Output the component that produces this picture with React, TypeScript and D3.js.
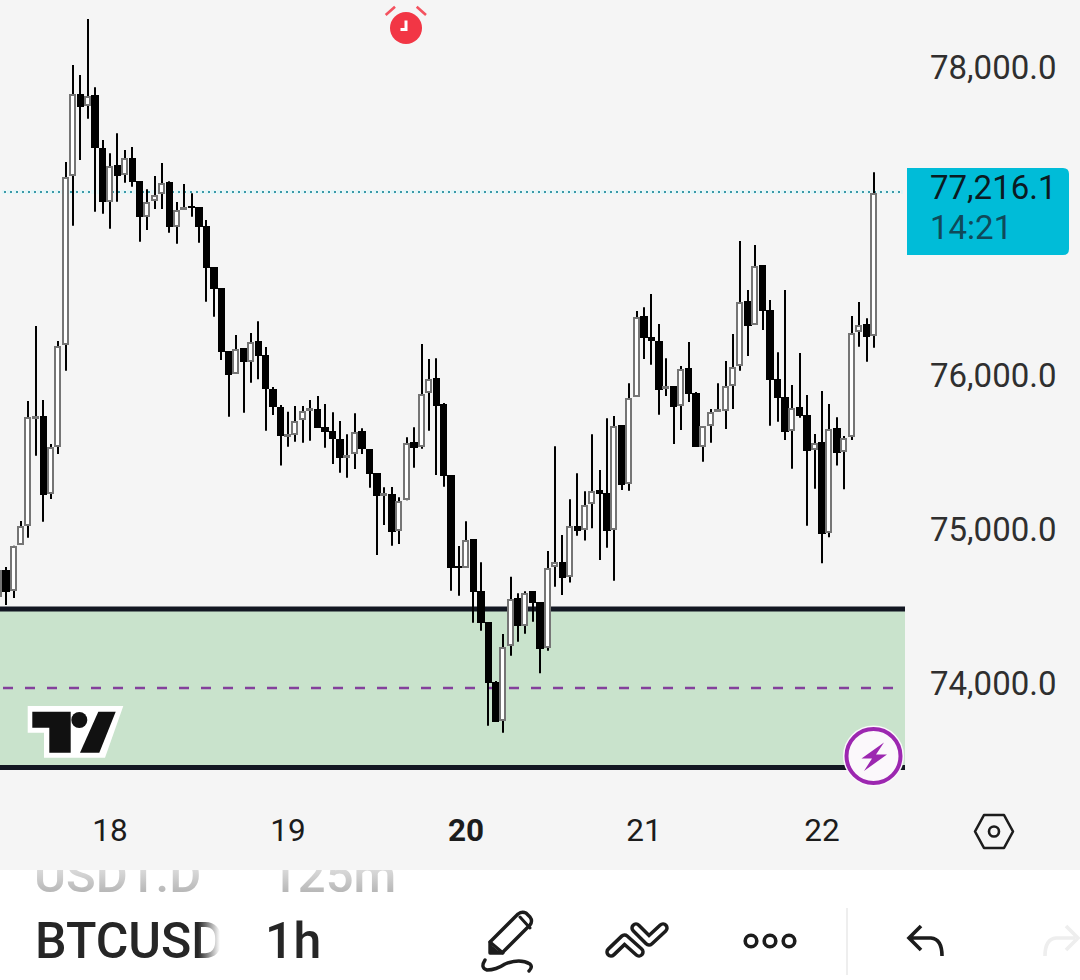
import React from "react";
import * as d3 from "d3";

const firstHourOffset = -15; // hours relative to day 18 00:00
const opens = [74591,74766,74630,74929,75054,75757,75766,75260,75567,76227,77325,77855,77779,77851,77505,77154,77396,77329,77440,77290,77060,77160,77206,77286,76995,77108,77132,77121,76998,76732,76595,76188,76039,76206,76119,76251,76160,75940,75823,75638,75643,75740,75810,75812,75693,75667,75617,75492,75519,75667,75550,75394,75260,75262,75017,75219,75595,75563,75914,76011,75842,75381,74790,74779,74966,74628,74427,74037,73786,74273,74582,74403,74628,74557,74258,74788,74816,74721,75055,75026,75195,75284,75264,75026,75706,75323,75892,76416,76277,76253,75940,75961,75831,76078,75914,75563,75701,75801,75799,75959,76091,76513,76357,76747,76453,76004,75888,75667,75825,75771,75545,75597,75006,75686,75531,75630,76312,76362,76286];
const highs = [74786,74786,74924,75084,75864,76351,75870,75584,76253,77416,78045,77981,78344,77901,77558,77472,77602,77494,77513,77290,77238,77325,77409,77290,77156,77273,77212,77121,77039,76732,76595,76188,76292,76206,76305,76381,76214,75955,75838,75794,75831,75831,75870,75896,75844,75790,75734,75647,75784,75686,75550,75394,75303,75305,75238,75628,75693,76234,76136,76141,75851,75381,74922,75082,74966,74816,74427,74045,74351,74723,74615,74628,74628,74557,74890,75569,74994,75225,75394,75277,75647,75416,75751,75766,75706,75979,76448,76472,76558,76364,76141,75961,76091,76247,75922,75701,75812,75979,76123,76299,76903,76584,76877,76747,76519,76180,76584,75968,76175,75903,75649,75929,75844,75758,75636,76416,76506,76401,77349];
const lows = [74545,74539,74584,74929,74976,75508,75080,75227,75519,76060,77002,77429,77697,77093,77080,76982,77158,77281,77255,76898,76974,77110,77110,76956,76885,77108,77060,76892,76508,76411,76130,75762,76039,75788,75982,76005,75671,75773,75444,75567,75599,75593,75606,75690,75560,75455,75398,75366,75422,75519,75301,74864,75058,74924,74935,75219,75431,75554,75671,75383,75307,74632,74599,74779,74424,74372,73755,73781,73710,74210,74301,74353,74431,74095,74242,74658,74604,74685,74989,74957,75037,74831,74911,74697,75286,75281,75890,76136,76099,75775,75896,75584,75675,75857,75567,75469,75593,75799,75682,75812,76060,76156,76357,76325,75703,75729,75610,75424,75755,75054,75294,74810,74979,75444,75290,75610,76216,76119,76210];
const closes = [74766,74623,74924,75054,75760,75766,75253,75567,76223,77320,77857,77775,77846,77505,77154,77392,77327,77444,77288,77060,77158,77203,77281,76995,77104,77125,77125,76995,76729,76593,76184,76034,76201,76119,76249,76158,75940,75823,75638,75647,75736,75801,75816,75690,75664,75617,75495,75513,75664,75550,75390,75249,75268,75015,75216,75593,75560,75909,76008,75833,75379,74781,74784,74961,74625,74424,74034,73781,74266,74580,74403,74619,74554,74255,74781,74815,74716,75052,75021,75188,75279,75262,75021,75703,75318,75885,76411,76275,76251,75937,75961,75827,76073,75911,75567,75701,75794,75810,75963,76086,76508,76353,76742,76450,76002,75885,75664,75820,75766,75541,75593,75002,75682,75528,75625,76305,76357,76281,77216.1];

const dayLabels = [18, 19, 20, 21, 22];
const boldDay = 20;
const priceTicks = [78000, 76000, 75000, 74000];
const zoneTop = 74513;
const zoneBottom = 73484;
const zoneMid = 74000;
const lastPrice = 77216.1;

const W = 1080, H = 980;
const chartBottom = 870;
const zoneEnd = 905;
const font = "Roboto, sans-serif";

const x = d3.scaleLinear().domain([18, 22]).range([110, 822]);
const y = d3.scaleLinear().domain([78000, 74000]).range([72, 688]);
const fmt = d3.format(",.1f");
const hourX = (i: number) => x(18 + (firstHourOffset + i) / 24);

export default function App() {
  const halfBody = 3.7;
  const lastY = Math.floor(y(lastPrice));
  return (
    <svg width={W} height={H} viewBox={`0 0 ${W} ${H}`} style={{ position: "absolute", left: 0, top: 0, display: "block" }}>
      <defs>
        <linearGradient id="fadeTop" gradientUnits="userSpaceOnUse" x1="0" y1="862" x2="0" y2="894">
          <stop offset="0" stopColor="#e6e6e6" />
          <stop offset="1" stopColor="#b4b4b4" />
        </linearGradient>
        <linearGradient id="fadeRight" gradientUnits="userSpaceOnUse" x1="198" y1="0" x2="220" y2="0">
          <stop offset="0" stopColor="#262626" />
          <stop offset="1" stopColor="#262626" stopOpacity="0" />
        </linearGradient>
        <clipPath id="symClip"><rect x="0" y="900" width="220" height="80" /></clipPath>
      </defs>
      <rect width={W} height={H} fill="#ffffff" />

      {/* bottom toolbar */}
      <text x={34} y={892} fontFamily={font} fontSize={49} fontWeight={500} fill="url(#fadeTop)">USD1.D</text>
      <text x={270} y={892} fontFamily={font} fontSize={49} fontWeight={500} fill="url(#fadeTop)">125m</text>
      <text x={35} y={958} fontFamily={font} fontSize={50} fontWeight={500} fill="url(#fadeRight)" clipPath="url(#symClip)">BTCUSD</text>
      <text x={265} y={958} fontFamily={font} fontSize={50} fontWeight={500} fill="#262626">1h</text>

      <rect width={W} height={chartBottom} fill="#f5f5f5" />

      {/* zone */}
      <rect x={0} y={y(zoneTop)} width={zoneEnd} height={y(zoneBottom) - y(zoneTop)} fill="#c9e3cc" />
      <line x1={0} x2={zoneEnd} y1={y(zoneTop)} y2={y(zoneTop)} stroke="#131722" strokeWidth={5} />
      <line x1={0} x2={zoneEnd} y1={y(zoneBottom)} y2={y(zoneBottom)} stroke="#131722" strokeWidth={5} />
      <line x1={3} x2={zoneEnd - 10} y1={y(zoneMid)} y2={y(zoneMid)} stroke="#84409c" strokeWidth={2.6} strokeDasharray="10 12" />

      {/* last price line */}
      <line x1={2} x2={903} y1={lastY} y2={lastY} stroke="#e3f6f8" strokeWidth={4} strokeDasharray="4 2" strokeDashoffset={1} />
      <line x1={4} x2={903} y1={lastY} y2={lastY} stroke="#3a9aa8" strokeWidth={2} strokeDasharray="2 4" />

      {/* candles */}
      {opens.map((o, i) => {
        const c = closes[i];
        const cx = Math.round(hourX(i));
        const up = c >= o;
        const top = Math.round(y(Math.max(o, c)));
        const bot = Math.round(y(Math.min(o, c)));
        const left = Math.round(hourX(i) - halfBody);
        const right = Math.round(hourX(i) + halfBody);
        return (
          <g key={i}>
            <line x1={cx} x2={cx} y1={y(highs[i])} y2={y(lows[i])} stroke="#000" strokeWidth={2} />
            {up ? (
              <rect x={cx - 3} y={top + 1} width={5} height={Math.max(bot - top - 2, 1)} fill="#fff" stroke="#757575" strokeWidth={2} />
            ) : (
              <rect x={left} y={top} width={right - left} height={Math.max(bot - top, 2)} fill="#000" />
            )}
          </g>
        );
      })}

      {/* alarm */}
      <circle cx={406} cy={28} r={16} fill="#f23645" />
      <path d="M406 20.5V29.5H400.5" fill="none" stroke="#fff" strokeWidth={3} />
      <path d="M385.7 15L395 6.7M416.7 6.7L426 15" fill="none" stroke="#f4525f" strokeWidth={2.6} />

      {/* tradingview logo */}
      <path d="M27.7 706H123.3L105 757.7H44V732.7H27.7Z" fill="#fff" />
      <path d="M32.3 711.7H70.7V752.7H49.3V727.7H32.3Z" fill="#111" />
      <circle cx={79.3} cy={720} r={8} fill="#111" />
      <path d="M98.3 711.7H115.7L99.3 752.7H80Z" fill="#111" />

      {/* lightning badge */}
      <circle cx={873.5} cy={756} r={30.5} fill="#fbf8fb" />
      <circle cx={873.5} cy={756} r={27} fill="#fbf8fb" stroke="#9c27b0" strokeWidth={4} />
      <path d="M884 742.5L861.5 758.5H872L864 771L887 754.5H876Z" fill="#9c27b0" />

      {/* price axis */}
      {priceTicks.map((p) => (
        <text key={p} x={930} y={y(p) + 7} fontFamily={font} fontSize={33} fill="#2f2f2f">{fmt(p)}</text>
      ))}
      <path d="M907 168H1063Q1069 168 1069 174V249Q1069 255 1063 255H907Z" fill="#00bcd8" />
      <text x={930} y={199} fontFamily={font} fontSize={33} fill="#0b1a22">{fmt(lastPrice)}</text>
      <text x={930} y={239} fontFamily={font} fontSize={33} fill="#0f4a5a">14:21</text>

      {/* time axis */}
      {dayLabels.map((d) => (
        <text key={d} x={x(d)} y={841} textAnchor="middle" fontFamily={font} fontSize={31.5} fontWeight={d === boldDay ? 700 : 400} fill="#1c1c1c">{d}</text>
      ))}

      {/* hexagon */}
      <path d="M984 815H1004L1013 831.5L1004 848H984L975 831.5Z" fill="none" stroke="#1c1c1c" strokeWidth={2.6} strokeLinejoin="round" />
      <circle cx={994} cy={831.5} r={5} fill="none" stroke="#1c1c1c" strokeWidth={2.6} />

      {/* pencil */}
      <g fill="none" stroke="#1c1c1c" strokeWidth={3.4} strokeLinecap="round" strokeLinejoin="round">
        <path d="M490 942L518 914Q522 911 526 913L530 917Q533 921 530 925L502 953H490Z" />
        <path d="M520 917L530 928M490 942L503 953" strokeWidth={3} />
        <path d="M485 960Q480 968 487 970Q496 970 505 964Q520 958 530 964Q533 967 529 971" />
      </g>
      <path d="M490 944V953H501Z" fill="#1c1c1c" />

      {/* double chevrons */}
      <g fill="none" strokeLinecap="round" strokeLinejoin="round">
        <path d="M611 952L624.5 939L639 952" stroke="#1c1c1c" strokeWidth={11.5} />
        <path d="M611 952L624.5 939L639 952" stroke="#fff" strokeWidth={4.5} />
        <path d="M636 928L649 941L663 928" stroke="#1c1c1c" strokeWidth={11.5} />
        <path d="M636 928L649 941L663 928" stroke="#fff" strokeWidth={4.5} />
      </g>

      <g fill="none" stroke="#1c1c1c" strokeWidth={3.6}>
        <circle cx={751} cy={941} r={5.8} />
        <circle cx={770} cy={941} r={5.8} />
        <circle cx={789} cy={941} r={5.8} />
      </g>
      <line x1={847} x2={847} y1={908} y2={975} stroke="#eeeeee" strokeWidth={2} />
      <path d="M921 926L909 938L921 950M909 938H931Q942 939 942 956" fill="none" stroke="#1c1c1c" strokeWidth={3.6} />
      <path d="M1045 956Q1045 939 1056 938H1075M1066 926L1078 938L1066 950" fill="none" stroke="#eeeeee" strokeWidth={3.6} />
    </svg>
  );
}
